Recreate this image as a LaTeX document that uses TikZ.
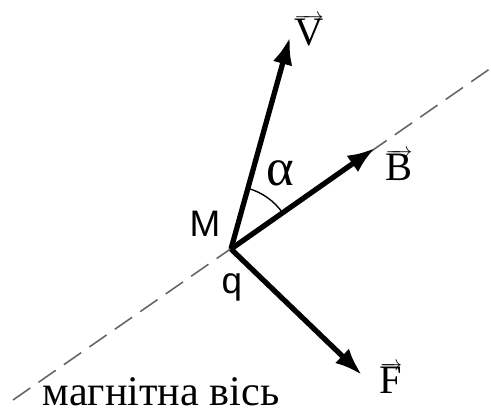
\documentclass[tikz,border=0pt]{standalone}
\usepackage{fontspec}
\setmainfont{Liberation Serif}
\newfontfamily\labelsans{Liberation Sans}
\usetikzlibrary{arrows.meta}
\newcommand\vlabel[1]{\vbox{\offinterlineskip\halign{##\cr
  {\fontsize{12}{12}\selectfont\rightarrowfill}\cr\noalign{\kern-2pt}
  \hbox{#1}\cr}}}

\begin{document}
\begin{tikzpicture}[x=0.02cm,y=-0.02cm]
\tikzstyle{vect}=[line width=3pt, -{Latex[length=5.5mm,width=4mm]}]
\tikzstyle{axis}=[black!60, line width=0.9pt, dash pattern=on 0.42cm off 0.2cm]
\tikzstyle{lbl}=[inner sep=0pt, anchor=base, font=\fontsize{23}{27}\selectfont]
\tikzstyle{pt}=[inner sep=0pt, anchor=base, font=\labelsans\fontsize{21}{25}\selectfont]
\useasboundingbox (0,0) rectangle (491,417);

\coordinate (M) at (231,249);
\coordinate (axL) at (13,400);
\coordinate (axR) at (491,68);
\coordinate (v) at (290,37);
\coordinate (b) at (375,148);
\coordinate (f) at (362,375);

\draw[axis] (axL) -- (axR);
\draw[vect] (M) -- (v);
\draw[vect] (M) -- (b);
\draw[vect] (M) -- (f);
\draw[line width=0.8pt] (M) ++(34.4:1.26cm) arc[start angle=34.4, end angle=74.6, radius=1.26cm];

\node[lbl] (vlab) at (309,45) {\vlabel{V}};
\node[lbl] (blab) at (399,180) {\vlabel{B}};
\node[lbl] (flab) at (391,393) {\vlabel{F}};
\node[lbl, font=\fontsize{30}{34}\selectfont] (alpha) at (280,185) {α};
\node[pt] (mlab) at (205,236) {M};
\node[pt] (qlab) at (232,293) {q};
\node[lbl, font=\fontsize{24}{28}\selectfont] (axlab) at (161,405) {магнітна вісь};
\end{tikzpicture}
\end{document}
